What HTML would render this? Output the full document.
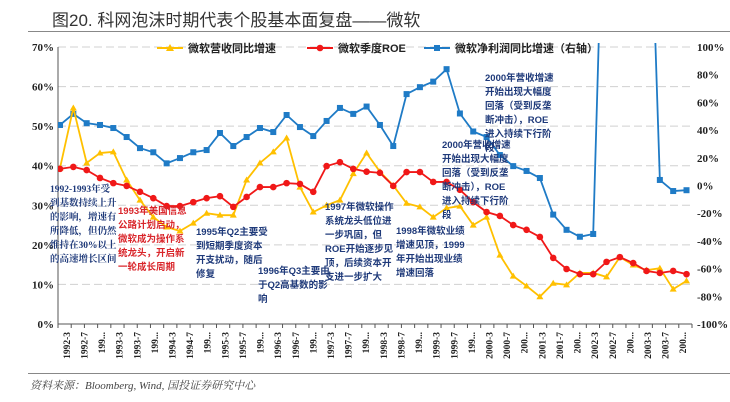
<!DOCTYPE html>
<html><head><meta charset="utf-8"><style>
body{margin:0;background:#fff;width:730px;height:402px;overflow:hidden;font-family:"Liberation Serif","Noto Serif CJK SC",serif}
.ann{position:absolute;font-family:"Liberation Sans","Noto Sans CJK SC",sans-serif;font-size:9.5px;font-weight:bold;color:#1f3a7a;line-height:14px;white-space:nowrap}
</style></head><body>
<div style="position:absolute;left:52px;top:6px;font-size:17px;font-family:'Liberation Sans','Noto Sans CJK SC',sans-serif;color:#333">图20. 科网泡沫时期代表个股基本面复盘——微软</div>
<div style="position:absolute;left:28px;top:31px;width:702px;height:1px;background:#888"></div>
<svg id="c" width="730" height="402" style="position:absolute;left:0;top:0"></svg>
<div class="ann" style="left:50px;top:183px;font-family:'Liberation Serif','Noto Serif CJK SC',serif">1992-1993年受<br>到基数持续上升<br>的影响，增速有<br>所降低，但仍然<br>维持在30%以上<br>的高速增长区间</div>
<div class="ann" style="left:118px;top:205px;color:#d9262b">1993年美国信息<br>公路计划启动，<br>微软成为操作系<br>统龙头，开启新<br>一轮成长周期</div>
<div class="ann" style="left:196px;top:226px">1995年Q2主要受<br>到短期季度资本<br>开支扰动，随后<br>修复</div>
<div class="ann" style="left:258px;top:265px">1996年Q3主要由<br>于Q2高基数的影<br>响</div>
<div class="ann" style="left:325px;top:201px">1997年微软操作<br>系统龙头低位进<br>一步巩固，但<br>ROE开始逐步见<br>顶，后续资本开<br>支进一步扩大</div>
<div class="ann" style="left:396px;top:225px">1998年微软业绩<br>增速见顶，1999<br>年开始出现业绩<br>增速回落</div>
<div class="ann" style="left:442px;top:139px">2000年营收增速<br>开始出现大幅度<br>回落（受到反垄<br>断冲击），ROE<br>进入持续下行阶<br>段</div>
<div class="ann" style="left:485px;top:72px">2000年营收增速<br>开始出现大幅度<br>回落（受到反垄<br>断冲击），ROE<br>进入持续下行阶<br>段</div>
<div style="position:absolute;left:28px;top:373px;width:702px;height:1px;background:#888"></div>
<div style="position:absolute;left:30px;top:377px;font-size:11px;font-style:italic;color:#444;font-family:'Liberation Serif','Noto Serif CJK SC',serif">资料来源：Bloomberg, Wind, 国投证券研究中心</div>
<script>
const xLabels=["1992-3","1992-7","199...","1993-3","1993-7","199...","1994-3","1994-7","199...","1995-3","1995-7","199...","1996-3","1996-7","199...","1997-3","1997-7","199...","1998-3","1998-7","199...","1999-3","1999-7","199...","2000-3","2000-7","200...","2001-3","2001-7","200...","2002-3","2002-7","200...","2003-3","2003-7","200..."];
const revenueGrowth=[39.4,54.6,40.7,43.2,43.5,36.4,31.3,27,24.5,23.5,25.5,28,27.5,27.5,36.4,40.7,43.5,47,34.6,28.3,30,31.3,38,43.2,38.5,35,30.5,29.6,27,29.3,29.8,25,27,17.4,12.1,9.6,6.9,10.3,9.9,12.9,12.9,11.9,16.9,14.9,13.6,14.1,8.8,10.9];
const roe=[39.2,39.7,38.9,36.9,35.6,34.9,33.4,31.8,29.8,29.8,30.8,31.8,32.3,29.6,32.1,34.6,34.6,35.6,35.4,33.4,39.9,40.9,39.2,38.5,38.2,34.9,38.4,38.4,35.9,35.9,33.9,30.8,28.3,27.3,25,23.8,22,16.7,13.9,12.6,12.6,15.7,16.9,15.4,13.4,12.9,13.4,12.6];
const profitGrowth=[43.7,51.7,45,43.7,41.5,35,27,24,16,19.8,24,25.6,37.9,28.5,35,41.5,38.6,50.9,42.2,35.7,46.6,56,51.7,57,43.7,28.5,66,71,75,84,52,39,35,22,14,10.5,5.4,-21,-32,-37,-35,300,300,300,300,4,-4,-3.4];
const leftTicks=[0,10,20,30,40,50,60,70];
const rightTicks=[-100,-80,-60,-40,-20,0,20,40,60,80,100];
const NS="http://www.w3.org/2000/svg",svg=document.getElementById('c');
const X0=60,DX=13.33,L=58,R=692,T=47,B=324;
const x=i=>X0+i*DX, yL=v=>B-(v/70)*(B-T), yR=v=>B-((v+100)/200)*(B-T);
function el(t,a,p){const e=document.createElementNS(NS,t);for(const k in a)e.setAttribute(k,a[k]);(p||svg).appendChild(e);return e;}
const defs=el('defs',{});const cp=el('clipPath',{id:'pc'},defs);el('rect',{x:L,y:T-4,width:R-L+2,height:B-T+8},cp);
leftTicks.forEach(v=>{if(v>0){const g=el('line',{x1:L,x2:R,y1:yL(v),y2:yL(v),stroke:'#d0d0d0','stroke-dasharray':'8,4'});}
const t=el('text',{x:L-4,y:yL(v)+4,'text-anchor':'end','font-size':11,'font-weight':'bold',fill:'#222','font-family':'Liberation Serif'});t.textContent=v+'%';});
rightTicks.forEach(v=>{const t=el('text',{x:697,y:yR(v)+4,'font-size':11,'font-weight':'bold',fill:'#222','font-family':'Liberation Serif'});t.textContent=(v<0?'-':'')+Math.abs(v)+'%';});
const ax=el('line',{x1:L,x2:L,y1:T,y2:B,stroke:'#555'});
const bx=el('line',{x1:L,x2:R,y1:B,y2:B,stroke:'#555'});
for(let i=0;i<=48;i++){el('line',{x1:L+i*(R-L)/48,x2:L+i*(R-L)/48,y1:B,y2:B+4,stroke:'#555'});}
xLabels.forEach((s,k)=>{const px=L+(k+0.5)*(R-L)/36+3;const t=el('text',{x:px,y:B+8,transform:`rotate(-90 ${px} ${B+8})`,'text-anchor':'end','font-size':9.5,'font-weight':'bold',fill:'#222','font-family':'Liberation Serif'});t.textContent=s;});
function series(data,yf,color,marker,name){const g=el('g',{'clip-path':'url(#pc)'});
el('polyline',{points:data.map((v,i)=>x(i)+','+yf(v)).join(' '),fill:'none',stroke:color,'stroke-width':1.8},g);
data.forEach((v,i)=>{let m;if(marker==='sq')m=el('rect',{x:x(i)-3,y:yf(v)-3,width:6,height:6,fill:color},g);else if(marker==='ci')m=el('circle',{cx:x(i),cy:yf(v),r:3.3,fill:color},g);else m=el('path',{d:`M${x(i)},${yf(v)-3.5}L${x(i)+3.5},${yf(v)+2.5}L${x(i)-3.5},${yf(v)+2.5}Z`,fill:color},g);});}
series(profitGrowth,yR,'#1f7bc6','sq','net-profit-growth-line');
series(revenueGrowth,yL,'#ffc000','tri','revenue-growth-line');
series(roe,yL,'#f01818','ci','roe-line');
function leg(x0,color,marker,label,name){const g=el('g',{});
el('line',{x1:x0,x2:x0+26,y1:48,y2:48,stroke:color,'stroke-width':2},g);
if(marker==='sq')el('rect',{x:x0+10,y:45,width:6,height:6,fill:color},g);else if(marker==='ci')el('circle',{cx:x0+13,cy:48,r:3.3,fill:color},g);else el('path',{d:`M${x0+13},${44}L${x0+17},${51}L${x0+9},${51}Z`,fill:color},g);
const t=el('text',{x:x0+31,y:52,'font-size':11,'font-weight':'bold',fill:'#222','font-family':'Liberation Sans, Noto Sans CJK SC, sans-serif'},g);t.textContent=label;}
leg(157,'#ffc000','tri','微软营收同比增速','legend-revenue-growth');
leg(307,'#f01818','ci','微软季度ROE','legend-roe');
leg(424,'#1f7bc6','sq','微软净利润同比增速（右轴）','legend-net-profit-growth');
</script>
</body></html>
